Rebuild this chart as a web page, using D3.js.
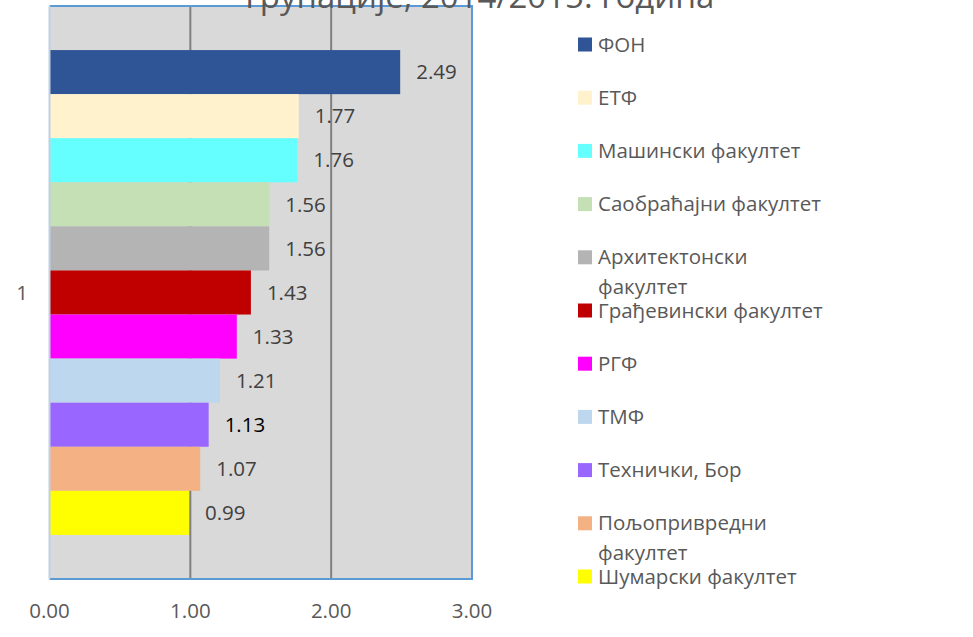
<!DOCTYPE html>
<html lang="sr">
<head>
    <meta charset="UTF-8">
    <title>групације, 2014/2015. година</title>
    <script src="https://d3js.org/d3.v7.min.js"></script>
    <style>
        body { margin: 0; background: #fff; font-family: "Open Sans", "Noto Sans", sans-serif; }
        svg text { fill: #595959; }
    </style>
</head>
<body>
    <div id="chart"></div>
    <script>
        // Data
        const faculties = ["ФОН", "ЕТФ", "Машински факултет", "Саобраћајни факултет",
            "Архитектонски факултет", "Грађевински факултет", "РГФ", "ТМФ",
            "Технички, Бор", "Пољопривредни факултет", "Шумарски факултет"];
        const values = [2.49, 1.77, 1.76, 1.56, 1.56, 1.43, 1.33, 1.21, 1.13, 1.07, 0.99];
        const colors = ["#2f5597", "#fff2cc", "#66ffff", "#c5e0b4", "#b4b4b4", "#c00000",
            "#ff00ff", "#bdd7ee", "#9966ff", "#f4b183", "#ffff00"];
        const xTicks = [0, 1, 2, 3];
        const categoryLabel = "1";
        const titleText = "групације, 2014/2015. година";

        const width = 973, height = 637;
        const plot = {left: 49.5, right: 472, top: 6, bottom: 579};
        const fontSize = "20.5px";

        const svg = d3.select("#chart").append("svg")
            .attr("width", width)
            .attr("height", height);

        const x = d3.scaleLinear().domain([0, 3]).range([plot.left, plot.right]);
        const y = d3.scaleBand().domain(faculties)
            .range([plot.top, plot.bottom])
            .paddingInner(0).paddingOuter(1);

        // plot background
        svg.append("rect")
            .attr("x", plot.left).attr("y", plot.top)
            .attr("width", plot.right - plot.left)
            .attr("height", plot.bottom - plot.top)
            .attr("fill", "#d9d9d9");

        // vertical gridlines
        svg.append("g").selectAll("line")
            .data(xTicks.slice(1, -1))
            .enter().append("line")
            .attr("x1", d => x(d)).attr("x2", d => x(d))
            .attr("y1", plot.top).attr("y2", plot.bottom)
            .attr("stroke", "#808080").attr("stroke-width", 2);

        // bars
        svg.append("g").selectAll("rect")
            .data(faculties)
            .enter().append("rect")
            .attr("x", x(0) + 0.5)
            .attr("y", d => y(d))
            .attr("width", (d, i) => x(values[i]) - x(0) - 0.5)
            .attr("height", y.bandwidth())
            .attr("fill", (d, i) => colors[i]);

        // borders
        svg.append("path")
            .attr("d", `M${plot.left},${plot.top}H${plot.right}V${plot.bottom}H${plot.left}`)
            .attr("fill", "none").attr("stroke", "#5b9bd5").attr("stroke-width", 2);
        svg.append("line")
            .attr("x1", plot.left).attr("x2", plot.left)
            .attr("y1", plot.top).attr("y2", plot.bottom)
            .attr("stroke", "#bfd0e4").attr("stroke-width", 2);

        // data labels
        svg.append("g").selectAll("text")
            .data(faculties)
            .enter().append("text")
            .attr("x", (d, i) => x(values[i]) + 16)
            .attr("y", d => y(d) + y.bandwidth() / 2)
            .attr("dy", "0.35em")
            .style("font-size", fontSize)
            .style("fill", d => d === "Технички, Бор" ? "#000" : "#404040")
            .text((d, i) => values[i].toFixed(2));

        // x tick labels
        svg.append("g").selectAll("text")
            .data(xTicks)
            .enter().append("text")
            .attr("x", d => x(d))
            .attr("y", 618)
            .attr("text-anchor", "middle")
            .style("font-size", fontSize)
            .text(d => d.toFixed(2));

        // category label
        svg.append("text")
            .attr("x", 22).attr("y", (plot.top + plot.bottom) / 2)
            .attr("dy", "0.35em")
            .attr("text-anchor", "middle")
            .style("font-size", fontSize)
            .text(categoryLabel);

        // title (first line is cut off above the page)
        svg.append("text")
            .attr("x", 480).attr("y", 8)
            .attr("text-anchor", "middle")
            .style("font-size", "33px")
            .text(titleText);

        // legend
        const legend = svg.append("g").selectAll("g")
            .data(faculties)
            .enter().append("g")
            .attr("transform", (d, i) => `translate(578, ${44.5 + i * 53.2})`);

        legend.append("rect")
            .attr("x", 0).attr("y", -7)
            .attr("width", 14).attr("height", 14)
            .attr("fill", (d, i) => colors[i]);

        legend.append("text")
            .attr("x", 20)
            .attr("dy", "0.35em")
            .style("font-size", fontSize)
            .each(function(d) {
                const t = d3.select(this);
                t.text(d);
                if (this.getComputedTextLength() > 236) {
                    const words = d.split(" ");
                    t.text(null);
                    t.append("tspan").attr("x", 20).text(words.slice(0, -1).join(" "));
                    t.append("tspan").attr("x", 20).attr("dy", 30).text(words[words.length - 1]);
                }
            });
    </script>
</body>
</html>
